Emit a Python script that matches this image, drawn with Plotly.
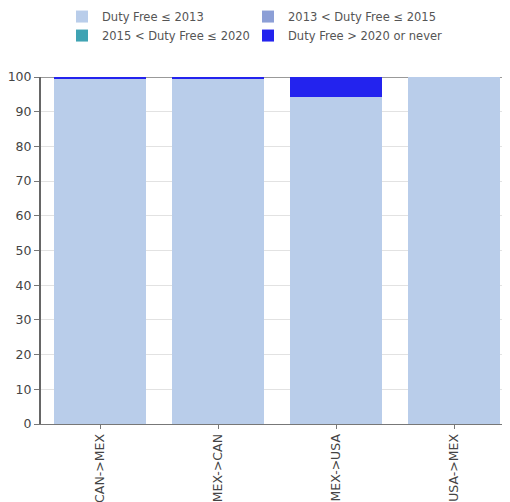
import plotly.graph_objects as go

categories = ["CAN->MEX", "MEX->CAN", "MEX->USA", "USA->MEX"]
series_names = ["Duty Free ≤ 2013", "2013 < Duty Free ≤ 2015",
                "2015 < Duty Free ≤ 2020", "Duty Free > 2020 or never"]
s1 = [99.3, 99.4, 94.3, 100.0]
s2 = [0.0, 0.0, 0.0, 0.0]
s3 = [0.0, 0.0, 0.0, 0.0]
s4 = [0.7, 0.6, 5.7, 0.0]
y_ticks = [0, 10, 20, 30, 40, 50, 60, 70, 80, 90, 100]

colors = ["#b9cdea", "#8c9fd6", "#3fa3b3", "#2323ee"]
legend_ids = ["legend", "legend2", "legend", "legend2"]

fig = go.Figure()
for name, vals, c, lg in zip(series_names, [s1, s2, s3, s4], colors, legend_ids):
    fig.add_trace(go.Bar(x=categories, y=vals, name=name, legend=lg,
                         marker=dict(color=c, line=dict(width=0))))

legend_font = dict(size=11.5, color="#555", family="DejaVu Sans, sans-serif")
fig.update_layout(
    barmode="stack",
    bargap=0.22,
    width=510, height=502,
    margin=dict(l=33, r=0, t=69, b=86, autoexpand=False),
    paper_bgcolor="white", plot_bgcolor="white",
    font=dict(family="DejaVu Sans, sans-serif", size=11, color="#444"),
    legend=dict(orientation="v", x=0.044, xanchor="left", y=1.216, yanchor="top",
                yref="paper", traceorder="normal", font=legend_font,
                tracegroupgap=0, bgcolor="rgba(0,0,0,0)"),
    legend2=dict(orientation="v", x=0.434, xanchor="left", y=1.216, yanchor="top",
                 yref="paper", traceorder="normal", font=legend_font,
                 tracegroupgap=0, bgcolor="rgba(0,0,0,0)"),
    showlegend=True,
)
fig.update_xaxes(tickangle=-90, showline=True, linecolor="#777", linewidth=1,
                 ticks="outside", ticklen=4, tickcolor="#777",
                 range=[-0.5, 3.542],
                 tickfont=dict(size=12.5, color="#444"))
fig.update_yaxes(range=[0, 100], tickvals=y_ticks, showline=True, linecolor="#666",
                 linewidth=2, ticks="outside", ticklen=5, tickcolor="#777",
                 showgrid=True, gridcolor="#e2e2e2", gridwidth=1,
                 tickfont=dict(size=12.5, color="#444"), zeroline=False)
fig.add_shape(type="line", xref="paper", yref="y", x0=0, x1=1, y0=100, y1=100,
              line=dict(color="#999", width=2), layer="below")

fig.write_html("out.html")
